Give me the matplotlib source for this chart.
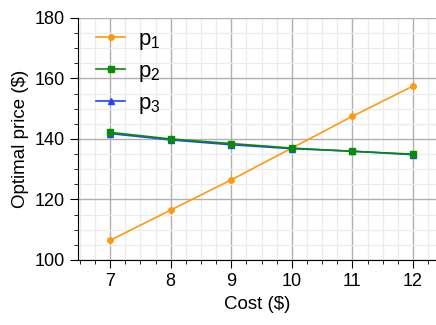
import matplotlib
matplotlib.use('Agg')
import matplotlib.pyplot as plt
from matplotlib.ticker import MultipleLocator

plt.rcParams['font.family'] = ['Liberation Sans', 'DejaVu Sans']
plt.rcParams['mathtext.fontset'] = 'custom'
plt.rcParams['mathtext.rm'] = 'Liberation Sans'
plt.rcParams['mathtext.it'] = 'Liberation Sans'

cost = [7, 8, 9, 10, 11, 12]
p1 = [106.5, 116.5, 126.5, 137.0, 147.5, 157.5]
p2 = [142.2, 140.0, 138.5, 137.0, 135.9, 135.0]
p3 = [141.8, 139.7, 138.1, 136.8, 136.0, 134.8]

fig = plt.figure(figsize=(4.36, 3.25), dpi=100)
ax = fig.add_axes([78/436, 65/325, 358/436, 242/325])

ax.plot(cost, p1, color='#ff9a10', marker='o', markersize=4, lw=1.2, label='p$_1$')
ax.plot(cost, p3, color='#2244ff', marker='^', markersize=5, lw=1.2, label='p$_3$', zorder=2)
ax.plot(cost, p2, color='#0a8a0a', marker='s', markersize=5, lw=1.2, label='p$_2$', zorder=3)

ax.set_xlim(6.47, 12.38)
ax.set_ylim(100, 180)
ax.xaxis.set_major_locator(MultipleLocator(1))
ax.xaxis.set_minor_locator(MultipleLocator(0.25))
ax.yaxis.set_major_locator(MultipleLocator(20))
ax.yaxis.set_minor_locator(MultipleLocator(5))
ax.grid(which='major', color='#b0b0b0', lw=1.0)
ax.grid(which='minor', color='#ebebeb', lw=0.9)
ax.set_axisbelow(True)
for s in ['top', 'right']:
    ax.spines[s].set_visible(False)
ax.tick_params(which='major', length=6, labelsize=13)
ax.tick_params(which='minor', length=3)

ax.set_xlabel('Cost ($)', fontsize=13.5)
ax.set_ylabel('Optimal price ($)', fontsize=13.5)

h, l = ax.get_legend_handles_labels()
order = [0, 2, 1]
ax.legend([h[i] for i in order], [l[i] for i in order], loc='upper left', frameon=False,
          fontsize=16, handlelength=1.3, handletextpad=0.6, borderaxespad=0.1,
          labelspacing=0.4, bbox_to_anchor=(0.02, 1.0))

fig.savefig('out.png', dpi=100)
